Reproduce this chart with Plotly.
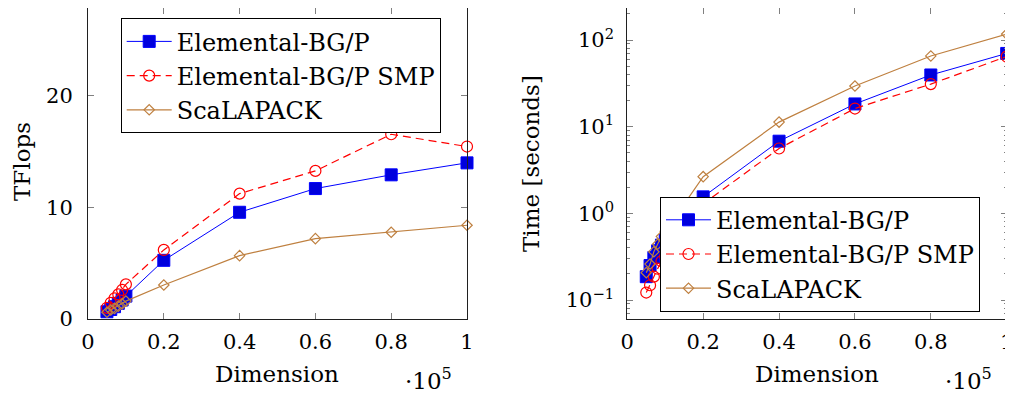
import plotly.graph_objects as go

# Data
dimension = [5000, 6000, 7000, 8000, 9000, 10000, 20000, 40000, 60000, 80000, 100000]

tflops_elemental = [0.65, 0.85, 1.1, 1.4, 1.7, 2.05, 5.25, 9.55, 11.67, 12.9, 13.97]
tflops_smp = [1.0, 1.45, 1.85, 2.2, 2.6, 3.1, 6.18, 11.22, 13.25, 16.53, 15.43]
tflops_scalapack = [0.6, 0.8, 0.95, 1.15, 1.35, 1.6, 3.04, 5.67, 7.19, 7.76, 8.39]

time_elemental = [0.186, 0.25, 0.31, 0.37, 0.43, 0.49, 1.55, 6.8, 18.3, 39.5, 70.0]
time_smp = [0.122, 0.148, 0.186, 0.23, 0.28, 0.32, 1.29, 5.6, 16.2, 31.0, 64.5]
time_scalapack = [0.207, 0.26, 0.36, 0.44, 0.54, 0.62, 2.65, 11.3, 29.5, 65.5, 117.0]

series_names = ["Elemental-BG/P", "Elemental-BG/P SMP", "ScaLAPACK"]

x_tickvals = [0, 20000, 40000, 60000, 80000, 100000]
x_ticktext = ["0", "0.2", "0.4", "0.6", "0.8", "1"]
yl_tickvals = [0, 10, 20]
yl_ticktext = ["0", "10", "20"]
yr_tickvals = [0.1, 1, 10, 100]
yr_ticktext = ["10<sup>\u22121</sup>", "10<sup>0</sup>", "10<sup>1</sup>", "10<sup>2</sup>"]

FONT = "DejaVu Serif"
BLUE = "#0000ff"
RED = "#ff0000"
BROWN = "#bf8040"
TICKC = "#808080"

# page offset of the plot div (default body margin)
OX, OY = 8, 8
W, H = 1005, 388


def px(x):
    return (x - OX) / W


def py(y):
    return 1 - (y - OY) / H


styles = [
    dict(line=dict(color=BLUE, width=1),
         marker=dict(symbol="square", size=12, color="#0000dd", line=dict(color=BLUE, width=1))),
    dict(line=dict(color=RED, width=1.2, dash="8px,5px"),
         marker=dict(symbol="circle-open", size=11, color=RED, line=dict(color=RED, width=1.2))),
    dict(line=dict(color=BROWN, width=1.2),
         marker=dict(symbol="diamond-open", size=8, color=BROWN, line=dict(color=BROWN, width=1.2))),
]

fig = go.Figure()

left_vals = [tflops_elemental, tflops_smp, tflops_scalapack]
right_vals = [time_elemental, time_smp, time_scalapack]

for name, ys, st in zip(series_names, left_vals, styles):
    fig.add_trace(go.Scatter(x=dimension, y=ys, name=name, mode="lines+markers",
                             xaxis="x", yaxis="y", legend="legend", cliponaxis=False, **st))
for name, ys, st in zip(series_names, right_vals, styles):
    fig.add_trace(go.Scatter(x=dimension, y=ys, name=name, mode="lines+markers",
                             xaxis="x2", yaxis="y2", legend="legend2", cliponaxis=False, **st))

ydom = [py(319), py(8.3)]

common_axis = dict(showline=True, linecolor="#202020", linewidth=1, mirror="ticks",
                   ticks="inside", ticklen=6, tickcolor=TICKC, tickwidth=1,
                   showgrid=False, zeroline=False, automargin=False,
                   ticklabeloverflow="allow",
                   tickfont=dict(family=FONT, size=21, color="black"))

legend_common = dict(xanchor="left", yanchor="top",
                     bgcolor="white", bordercolor="black", borderwidth=1,
                     font=dict(family=FONT, size=24, color="black"), itemwidth=45,
                     tracegroupgap=0)

fig.update_layout(
    width=W, height=H,
    margin=dict(l=0, r=0, t=0, b=0, autoexpand=False),
    paper_bgcolor="white", plot_bgcolor="white",
    font=dict(family=FONT, size=24, color="black"),
    xaxis=dict(domain=[px(88), px(467)], range=[0, 100000], tickvals=x_tickvals,
               ticktext=x_ticktext, anchor="y", ticklabelstandoff=4, **common_axis),
    yaxis=dict(domain=ydom, range=[0, 27.8], tickvals=yl_tickvals, ticktext=yl_ticktext,
               anchor="x", ticklabelstandoff=10, **common_axis),
    xaxis2=dict(domain=[px(627.3), px(1006.7)], range=[0, 100000], tickvals=x_tickvals,
                ticktext=x_ticktext, anchor="y2", ticklabelstandoff=4, **common_axis),
    yaxis2=dict(domain=ydom, type="log", range=[-1.219, 2.366], tickvals=yr_tickvals,
                ticktext=yr_ticktext, anchor="x2", ticklabelstandoff=8,
                minor=dict(ticks="inside", ticklen=3, tickcolor=TICKC, dtick="D1", showgrid=False),
                **common_axis),
    legend=dict(x=px(120.7), y=py(18.3), **legend_common),
    legend2=dict(x=px(660), y=py(196.7), **legend_common),
    showlegend=True,
)

annots = [
    dict(text="TFlops", x=px(22), y=py(162), textangle=-90, yanchor="middle"),
    dict(text="Dimension", x=px(277), y=py(374), yanchor="middle"),
    dict(text="\u00b710<sup>5</sup>", x=px(428), y=0, yanchor="bottom"),
    dict(text="Time [seconds]", x=px(531), y=py(164), textangle=-90, yanchor="middle"),
    dict(text="Dimension", x=px(817), y=py(374), yanchor="middle"),
    dict(text="\u00b710<sup>5</sup>", x=px(968), y=0, yanchor="bottom"),
]
for a in annots:
    fig.add_annotation(xref="paper", yref="paper", showarrow=False, xanchor="center",
                       font=dict(family=FONT, size=23, color="black"), **a)

fig.write_html("out.html")
